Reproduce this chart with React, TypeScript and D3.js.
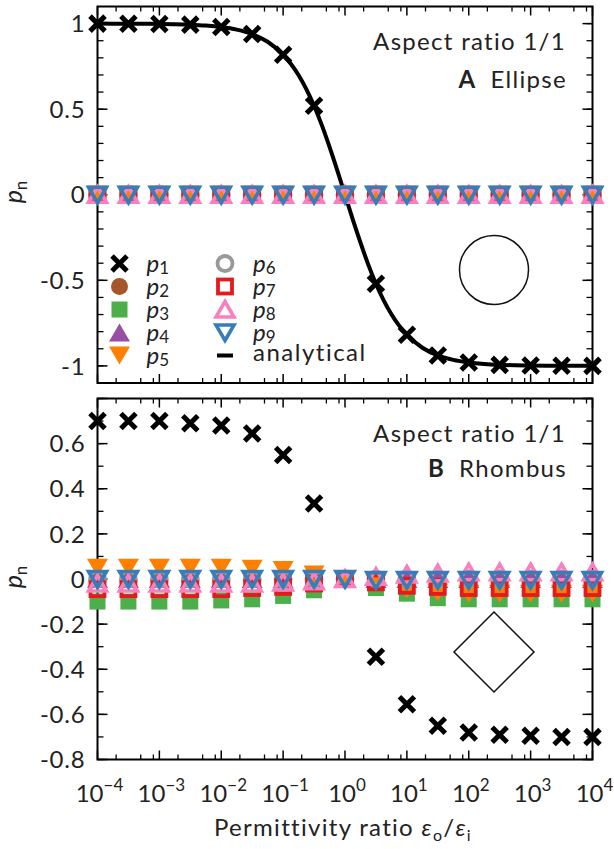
import React from 'react';
import * as d3 from 'd3';

// ---------------- data ----------------
const ratio = [1e-4, 3.16e-4, 1e-3, 3.16e-3, 1e-2, 3.16e-2, 0.1, 0.316, 1, 3.16, 10, 31.6, 100, 316, 1000, 3160, 10000];

// Panel A (ellipse)
const aP1 = [1.0, 0.999, 0.998, 0.994, 0.98, 0.939, 0.818, 0.52, 0, -0.52, -0.818, -0.939, -0.98, -0.994, -0.998, -0.999, -1.0];
const aP2 = [0, 0, 0, 0, 0, 0, 0, 0, 0, 0, 0, 0, 0, 0, 0, 0, 0];
const aP3 = [0, 0, 0, 0, 0, 0, 0, 0, 0, 0, 0, 0, 0, 0, 0, 0, 0];
const aP4 = [0, 0, 0, 0, 0, 0, 0, 0, 0, 0, 0, 0, 0, 0, 0, 0, 0];
const aP5 = [0, 0, 0, 0, 0, 0, 0, 0, 0, 0, 0, 0, 0, 0, 0, 0, 0];
const aP6 = [0, 0, 0, 0, 0, 0, 0, 0, 0, 0, 0, 0, 0, 0, 0, 0, 0];
const aP7 = [0, 0, 0, 0, 0, 0, 0, 0, 0, 0, 0, 0, 0, 0, 0, 0, 0];
const aP8 = [0, 0, 0, 0, 0, 0, 0, 0, 0, 0, 0, 0, 0, 0, 0, 0, 0];
const aP9 = [0, 0, 0, 0, 0, 0, 0, 0, 0, 0, 0, 0, 0, 0, 0, 0, 0];

// analytical curve
const analyticRatio = [
  0.0001, 0.000178, 0.000316, 0.000562, 0.001, 0.00178, 0.00316, 0.00562, 0.01, 0.0178, 0.0316, 0.0562,
  0.1, 0.133, 0.178, 0.237, 0.316, 0.422, 0.562, 0.75, 1, 1.33, 1.78, 2.37, 3.16, 4.22, 5.62, 7.5, 10,
  17.8, 31.6, 56.2, 100, 178, 316, 562, 1000, 1780, 3160, 5620, 10000,
];
const analyticP1 = [
  1.0, 0.9996, 0.9994, 0.9989, 0.998, 0.9964, 0.9937, 0.9888, 0.98, 0.965, 0.939, 0.894,
  0.818, 0.765, 0.698, 0.617, 0.52, 0.407, 0.28, 0.143, 0, -0.143, -0.28, -0.407, -0.52, -0.617, -0.698, -0.765, -0.818,
  -0.894, -0.939, -0.965, -0.98, -0.9888, -0.9937, -0.9964, -0.998, -0.9989, -0.9994, -0.9996, -1.0,
];

// Panel B (rhombus)
const bP1 = [0.7, 0.7, 0.7, 0.69, 0.68, 0.645, 0.55, 0.335, 0, -0.345, -0.555, -0.65, -0.68, -0.69, -0.695, -0.7, -0.7];
const bP2 = [0, 0, 0, 0, 0, 0, 0, 0, 0, 0, 0, 0, 0, 0, 0, 0, 0];
const bP3 = [-0.1, -0.1, -0.1, -0.1, -0.095, -0.09, -0.075, -0.05, 0, -0.04, -0.065, -0.085, -0.09, -0.09, -0.09, -0.09, -0.09];
const bP4 = [0, 0, 0, 0, 0, 0, 0, 0, 0, 0, 0, 0, 0, 0, 0, 0, 0];
const bP5 = [0.05, 0.05, 0.05, 0.05, 0.05, 0.045, 0.04, 0.02, 0, -0.02, -0.045, -0.06, -0.065, -0.065, -0.065, -0.065, -0.065];
const bP6 = [0, 0, 0, 0, 0, 0, 0, 0, 0, 0, 0, 0, 0, 0, 0, 0, 0];
const bP7 = [-0.045, -0.045, -0.045, -0.045, -0.045, -0.04, -0.035, -0.02, 0, -0.015, -0.03, -0.035, -0.04, -0.04, -0.04, -0.04, -0.04];
const bP8 = [-0.02, -0.02, -0.02, -0.02, -0.02, -0.02, -0.015, -0.01, 0, 0.01, 0.02, 0.025, 0.03, 0.03, 0.03, 0.03, 0.03];
const bP9 = [0, 0, 0, 0, 0, 0, 0, 0, 0, -0.005, -0.005, -0.005, -0.005, -0.005, -0.005, -0.005, -0.005];

const seriesLabels = ['1', '2', '3', '4', '5', '6', '7', '8', '9'];

// ticks
const xTickValues = [1e-4, 1e-3, 1e-2, 1e-1, 1, 10, 100, 1000, 10000];
const xTickExponents = ['\u22124', '\u22123', '\u22122', '\u22121', '0', '1', '2', '3', '4'];
const yTicksA = [1, 0.5, 0, -0.5, -1];
const yTickLabelsA = ['1', '0.5', '0', '-0.5', '-1'];
const yTicksB = [0.6, 0.4, 0.2, 0, -0.2, -0.4, -0.6, -0.8];
const yTickLabelsB = ['0.6', '0.4', '0.2', '0', '-0.2', '-0.4', '-0.6', '-0.8'];

// ---------------- styles ----------------
const markerKinds = ['cross', 'circle', 'square', 'triUp', 'triDown', 'ocircle', 'osquare', 'otriUp', 'otriDown'];
const markerColors = ['#000000', '#a65628', '#4daf4a', '#984ea3', '#ff7f00', '#999999', '#e41a1c', '#f781bf', '#377eb8'];

const FONT = "Lato, 'DejaVu Sans', sans-serif";
const LS = 1.3;
const W = 614;
const H = 849;
const X0 = 97.5;
const X1 = 592.5;

const x = d3.scaleLog().domain([1e-4, 1e4]).range([X0, X1]);

function Marker({ kind, color, cx, cy }: { kind: string; color: string; cx: number; cy: number }) {
  const t = `translate(${cx},${cy})`;
  switch (kind) {
    case 'cross':
      return <path transform={t} d="M-7.5,-7.5L7.5,7.5M-7.5,7.5L7.5,-7.5" stroke={color} strokeWidth={5} fill="none" />;
    case 'circle':
      return <circle cx={cx} cy={cy} r={8.5} fill={color} />;
    case 'square':
      return <rect x={cx - 8} y={cy - 8} width={16} height={16} fill={color} />;
    case 'triUp':
      return <path transform={t} d="M0,-9L10.5,9L-10.5,9Z" fill={color} />;
    case 'triDown':
      return <path transform={t} d="M0,9L10.5,-9L-10.5,-9Z" fill={color} />;
    case 'ocircle':
      return <circle cx={cx} cy={cy} r={7.5} fill="none" stroke={color} strokeWidth={3.8} />;
    case 'osquare':
      return <rect x={cx - 7} y={cy - 7} width={14} height={14} fill="none" stroke={color} strokeWidth={3.8} />;
    case 'otriUp':
      return <path transform={t} d="M0,-8L9,7.5L-9,7.5Z" fill="none" stroke={color} strokeWidth={3.6} />;
    case 'otriDown':
      return <path transform={t} d="M0,8L9,-7.5L-9,-7.5Z" fill="none" stroke={color} strokeWidth={3.6} />;
    default:
      return null;
  }
}

function Frame({ y, top, bottom, majorY, minorY }: any) {
  const els: any[] = [];
  const minorX: number[] = [];
  for (let k = -4; k < 4; k++) [2, 5, 8].forEach((m) => minorX.push(m * Math.pow(10, k)));
  xTickValues.forEach((v, i) => {
    const px = x(v);
    els.push(<line key={`xb${i}`} x1={px} x2={px} y1={bottom} y2={bottom - 9} stroke="#000" strokeWidth={1.5} />);
    els.push(<line key={`xt${i}`} x1={px} x2={px} y1={top} y2={top + 9} stroke="#000" strokeWidth={1.5} />);
  });
  minorX.forEach((v, i) => {
    const px = x(v);
    els.push(<line key={`mxb${i}`} x1={px} x2={px} y1={bottom} y2={bottom - 5} stroke="#000" strokeWidth={1.3} />);
    els.push(<line key={`mxt${i}`} x1={px} x2={px} y1={top} y2={top + 5} stroke="#000" strokeWidth={1.3} />);
  });
  majorY.forEach((v: number, i: number) => {
    const py = y(v);
    els.push(<line key={`yl${i}`} x1={X0} x2={X0 + 10} y1={py} y2={py} stroke="#000" strokeWidth={1.5} />);
    els.push(<line key={`yr${i}`} x1={X1} x2={X1 - 10} y1={py} y2={py} stroke="#000" strokeWidth={1.5} />);
  });
  minorY.forEach((v: number, i: number) => {
    const py = y(v);
    els.push(<line key={`myl${i}`} x1={X0} x2={X0 + 6} y1={py} y2={py} stroke="#000" strokeWidth={1.3} />);
    els.push(<line key={`myr${i}`} x1={X1} x2={X1 - 6} y1={py} y2={py} stroke="#000" strokeWidth={1.3} />);
  });
  els.push(
    <rect key="frame" x={X0} y={top} width={X1 - X0} height={bottom - top} fill="none" stroke="#000" strokeWidth={2} />
  );
  return <g>{els}</g>;
}

function YTickLabels({ y, ticks, labels }: any) {
  return (
    <g fontFamily={FONT} fontSize={24} textAnchor="end" fill="#222" letterSpacing={0.8}>
      {ticks.map((v: number, i: number) => (
        <text key={i} x={X0 - 12} y={y(v)} dy="0.36em">
          {labels[i]}
        </text>
      ))}
    </g>
  );
}

function YLabel({ cy }: { cy: number }) {
  return (
    <text transform={`translate(22,${cy}) rotate(-90)`} textAnchor="middle" fontFamily={FONT} fontSize={25} fill="#222">
      <tspan fontStyle="italic">p</tspan>
      <tspan fontSize={17} dy={5}>n</tspan>
    </text>
  );
}

function Series({ y, data }: { y: any; data: number[][] }) {
  return (
    <g>
      {data.map((vals, s) => (
        <g key={s}>
          {vals.map((v, i) => (
            <Marker key={i} kind={markerKinds[s]} color={markerColors[s]} cx={x(ratio[i])} cy={y(v)} />
          ))}
        </g>
      ))}
    </g>
  );
}

function Annotation({ y1, y2, letter, name }: { y1: number; y2: number; letter: string; name: string }) {
  return (
    <g fontFamily={FONT} fontSize={24} fill="#222" textAnchor="end" letterSpacing={LS}>
      <text x={566} y={y1}>Aspect ratio 1/1</text>
      <text x={567} y={y2}>
        <tspan fontWeight="bold">{letter}</tspan>
        <tspan dx={14}>{name}</tspan>
      </text>
    </g>
  );
}

export default function App() {
  const topA = 6.5;
  const botA = 383;
  const topB = 398.5;
  const botB = 759.5;
  const yA = d3.scaleLinear().domain([-1.1, 1.1]).range([botA, topA]);
  const yB = d3.scaleLinear().domain([-0.8, 0.8]).range([botB, topB]);

  const minorA = d3.range(-10, 11).map((i) => i / 10);
  const minorB = d3.range(-8, 9).map((i) => i / 10);
  const majorB = d3.range(-4, 5).map((i) => i / 5);

  const line = d3
    .line<number>()
    .x((_, i) => x(analyticRatio[i]))
    .y((v) => yA(v))
    .curve(d3.curveMonotoneX);

  const legendRows = [263.5, 286.5, 309.5, 332.5, 355.5];
  const legendCols = [
    { mx: 119.5, tx: 146.5 },
    { mx: 225, tx: 253 },
  ];

  const seriesA = [aP1, aP2, aP3, aP4, aP5, aP6, aP7, aP8, aP9];
  const seriesB = [bP1, bP2, bP3, bP4, bP5, bP6, bP7, bP8, bP9];

  return (
    <svg width={W} height={H} style={{ position: 'absolute', left: 0, top: 0, background: '#fff' }}>
      <rect width={W} height={H} fill="#fff" />

      {/* ---------- Panel A ---------- */}
      <Frame y={yA} top={topA} bottom={botA} majorY={[-1, -0.5, 0, 0.5, 1]} minorY={minorA} />
      <path d={line(analyticP1) || ''} fill="none" stroke="#000" strokeWidth={4} />
      <Series y={yA} data={seriesA} />
      <YTickLabels y={yA} ticks={yTicksA} labels={yTickLabelsA} />
      <YLabel cy={192} />
      <Annotation y1={50} y2={88} letter="A" name="Ellipse" />
      <circle cx={494} cy={270} r={34.5} fill="none" stroke="#111" strokeWidth={1.5} />

      {/* legend */}
      {seriesLabels.map((lab, s) => {
        const col = legendCols[s < 5 ? 0 : 1];
        const ry = legendRows[s < 5 ? s : s - 5];
        return (
          <g key={lab}>
            <Marker kind={markerKinds[s]} color={markerColors[s]} cx={col.mx} cy={ry} />
            <text x={col.tx} y={ry + 8} fontFamily={FONT} fontSize={24} fill="#222">
              <tspan fontStyle="italic">p</tspan>
              <tspan fontSize={17} dy={2}>{lab}</tspan>
            </text>
          </g>
        );
      })}
      <line x1={legendCols[1].mx - 8} x2={legendCols[1].mx + 8} y1={legendRows[4]} y2={legendRows[4]} stroke="#000" strokeWidth={4} />
      <text x={legendCols[1].tx} y={legendRows[4] + 5} fontFamily={FONT} fontSize={24} fill="#222" letterSpacing={1.5}>
        analytical
      </text>

      {/* ---------- Panel B ---------- */}
      <Frame y={yB} top={topB} bottom={botB} majorY={majorB} minorY={minorB} />
      <Series y={yB} data={seriesB} />
      <YTickLabels y={yB} ticks={yTicksB} labels={yTickLabelsB} />
      <YLabel cy={577} />
      <Annotation y1={442} y2={477} letter="B" name="Rhombus" />
      <path d="M494,612L534,652L494,692L454,652Z" fill="none" stroke="#111" strokeWidth={1.5} />

      {/* x tick labels */}
      <g fontFamily={FONT} fontSize={24} fill="#222" textAnchor="middle">
        {xTickValues.map((v, i) => (
          <text key={i} x={x(v) + 2} y={802}>
            <tspan>10</tspan>
            <tspan fontSize={17} dy={-11}>{xTickExponents[i]}</tspan>
          </text>
        ))}
      </g>

      {/* x label */}
      <text x={343} y={836} textAnchor="middle" fontFamily={FONT} fontSize={24} fill="#222" letterSpacing={LS}>
        <tspan>Permittivity ratio </tspan>
        <tspan fontStyle="italic">ε</tspan>
        <tspan fontSize={16} dy={5}>o</tspan>
        <tspan dy={-5}>/</tspan>
        <tspan fontStyle="italic">ε</tspan>
        <tspan fontSize={16} dy={5}>i</tspan>
      </text>
    </svg>
  );
}
